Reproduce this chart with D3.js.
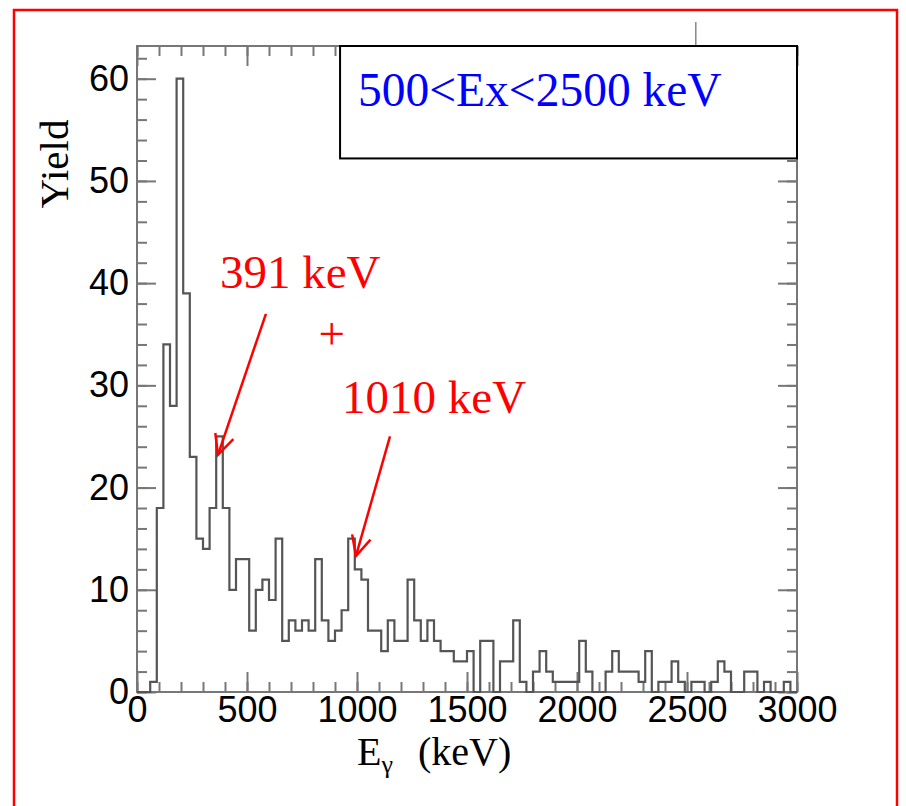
<!DOCTYPE html>
<html>
<head>
<meta charset="utf-8">
<script src="https://cdn.jsdelivr.net/npm/d3@7"></script>
<style>
  body { margin: 0; background: #fff; }
  svg { display: block; }
</style>
</head>
<body>
<div id="chart"></div>
<script>
// histogram: 30 keV bins from 0 to 3000 keV
const binWidth = 30;
const counts = [
  0, 0, 1, 18, 34, 28, 60, 39, 23, 15,
  14, 18, 25, 18, 10, 13, 13, 6, 10, 11,
  9, 15, 5, 7, 6, 7, 6, 13, 7, 5,
  6, 8, 15, 12, 11, 6, 6, 4, 7, 5,
  5, 11, 7, 5, 7, 5, 4, 4, 3, 3,
  4, 0, 5, 5, 0, 3, 3, 7, 1, 0,
  2, 4, 2, 1, 1, 1, 1, 5, 2, 0,
  0, 2, 4, 2, 2, 2, 1, 4, 0, 1,
  1, 3, 1, 0, 1, 1, 0, 1, 3, 2,
  0, 0, 2, 2, 0, 1, 0, 0, 1, 0
];
const xMajor = [0, 500, 1000, 1500, 2000, 2500, 3000];
const yMajor = [0, 10, 20, 30, 40, 50, 60];
const xDomain = [0, 3000];
const yDomain = [0, 63.2];

// annotations, in data coordinates
const labels = [
  { text: "391 keV", e: 377, v: 39.5 },
  { text: "+", e: 825, v: 33.6 },
  { text: "1010 keV", e: 932, v: 27.3 }
];
const arrows = [
  { from: [586, 37], to: [368, 23.2] },
  { from: [1150, 25], to: [995, 13.3] }
];

const W = 906, H = 806;
const svg = d3.select("#chart").append("svg")
    .attr("width", W)
    .attr("height", H);

svg.append("rect").attr("width", W).attr("height", H).attr("fill", "#fff");

// red slide border
svg.append("rect")
    .attr("x", 14).attr("y", 10)
    .attr("width", 883).attr("height", 840)
    .attr("fill", "none")
    .attr("stroke", "#ff0000")
    .attr("stroke-width", 2.5);

const x = d3.scaleLinear().domain(xDomain).range([137, 797]);
const y = d3.scaleLinear().domain(yDomain).range([692, 46]);

const axisColor = "#777";
const minorX = d3.range(0, 3001, 100);
const minorY = d3.range(0, 63, 2);

function styleAxis(g) {
    g.select(".domain").remove();
    g.selectAll("line").attr("stroke", axisColor).attr("stroke-width", 2);
    g.selectAll("text")
        .attr("fill", "#000")
        .style("font-family", "'Liberation Sans', Arial, sans-serif")
        .style("font-size", "36px");
}

// bottom axis
svg.append("g").attr("transform", `translate(0,${y(0)})`)
    .call(d3.axisBottom(x).tickValues(minorX).tickSize(-10).tickFormat(""))
    .call(styleAxis);
svg.append("g").attr("transform", `translate(0,${y(0)})`)
    .call(d3.axisBottom(x).tickValues(xMajor).tickSize(-20).tickPadding(4).tickFormat(d3.format("d")))
    .call(styleAxis);

// top axis (mirror ticks)
svg.append("g").attr("transform", `translate(0,${y(yDomain[1])})`)
    .call(d3.axisTop(x).tickValues(minorX).tickSize(-10).tickFormat(""))
    .call(styleAxis);
svg.append("g").attr("transform", `translate(0,${y(yDomain[1])})`)
    .call(d3.axisTop(x).tickValues(xMajor).tickSize(-20).tickFormat(""))
    .call(styleAxis);

// left axis
svg.append("g").attr("transform", `translate(${x(0)},0)`)
    .call(d3.axisLeft(y).tickValues(minorY).tickSize(-10).tickFormat(""))
    .call(styleAxis);
svg.append("g").attr("transform", `translate(${x(0)},0)`)
    .call(d3.axisLeft(y).tickValues(yMajor).tickSize(-19).tickPadding(8).tickFormat(d3.format("d")))
    .call(styleAxis);

// right axis
svg.append("g").attr("transform", `translate(${x(3000)},0)`)
    .call(d3.axisRight(y).tickValues(minorY).tickSize(-10).tickFormat(""))
    .call(styleAxis);
svg.append("g").attr("transform", `translate(${x(3000)},0)`)
    .call(d3.axisRight(y).tickValues(yMajor).tickSize(-19).tickFormat(""))
    .call(styleAxis);

// frame
svg.append("rect")
    .attr("x", x(0)).attr("y", y(yDomain[1]))
    .attr("width", x(3000) - x(0))
    .attr("height", y(0) - y(yDomain[1]))
    .attr("fill", "none")
    .attr("stroke", axisColor)
    .attr("stroke-width", 2);

// histogram outline
const pts = [[0, 0]];
counts.forEach((c, i) => {
    pts.push([i * binWidth, c]);
    pts.push([(i + 1) * binWidth, c]);
});
pts.push([counts.length * binWidth, 0]);

svg.append("path")
    .datum(pts)
    .attr("fill", "none")
    .attr("stroke", "#555")
    .attr("stroke-width", 2.2)
    .attr("d", d3.line().x(d => x(d[0])).y(d => y(d[1])));

// stray tick above the frame
svg.append("line")
    .attr("x1", x(2540)).attr("x2", x(2540))
    .attr("y1", 22).attr("y2", y(yDomain[1]))
    .attr("stroke", "#888").attr("stroke-width", 1.5);

// legend box
svg.append("rect")
    .attr("x", x(923)).attr("y", y(yDomain[1]))
    .attr("width", x(3000) - x(923))
    .attr("height", y(52.2) - y(yDomain[1]))
    .attr("fill", "#fff")
    .attr("stroke", "#000")
    .attr("stroke-width", 2);

svg.append("text")
    .attr("x", x(923) + 18).attr("y", 106)
    .attr("fill", "#0000ff")
    .style("font-family", "'Liberation Serif', 'Times New Roman', serif")
    .style("font-size", "47.5px")
    .text("500<Ex<2500 keV");

// red annotations
labels.forEach(l => {
    svg.append("text")
        .attr("x", x(l.e)).attr("y", y(l.v))
        .attr("fill", "#ff0000")
        .style("font-family", "'Liberation Serif', 'Times New Roman', serif")
        .style("font-size", "47px")
        .text(l.text);
});

arrows.forEach(a => {
    const x1 = x(a.from[0]), y1 = y(a.from[1]);
    const x2 = x(a.to[0]), y2 = y(a.to[1]);
    const ang = Math.atan2(y2 - y1, x2 - x1);
    const len = 22, spread = Math.PI / 7;
    svg.append("line")
        .attr("x1", x1).attr("y1", y1).attr("x2", x2).attr("y2", y2)
        .attr("stroke", "#ff0000").attr("stroke-width", 2.5);
    svg.append("path")
        .attr("d", `M${x2 - len * Math.cos(ang - spread)},${y2 - len * Math.sin(ang - spread)}` +
                   `L${x2},${y2}` +
                   `L${x2 - len * Math.cos(ang + spread)},${y2 - len * Math.sin(ang + spread)}`)
        .attr("fill", "none")
        .attr("stroke", "#ff0000").attr("stroke-width", 2.5);
});

// axis titles
svg.append("text")
    .attr("transform", "translate(68,164) rotate(-90)")
    .attr("text-anchor", "middle")
    .style("font-family", "'Liberation Serif', 'Times New Roman', serif")
    .style("font-size", "41px")
    .text("Yield");

const xt = svg.append("text")
    .attr("x", 357).attr("y", 765)
    .style("font-family", "'Liberation Serif', 'Times New Roman', serif")
    .style("font-size", "40px");
xt.append("tspan").text("E");
xt.append("tspan").attr("dy", 8).style("font-size", "26px").text("γ");
xt.append("tspan").attr("x", 418).attr("dy", -8).text("(keV)");
</script>
</body>
</html>
